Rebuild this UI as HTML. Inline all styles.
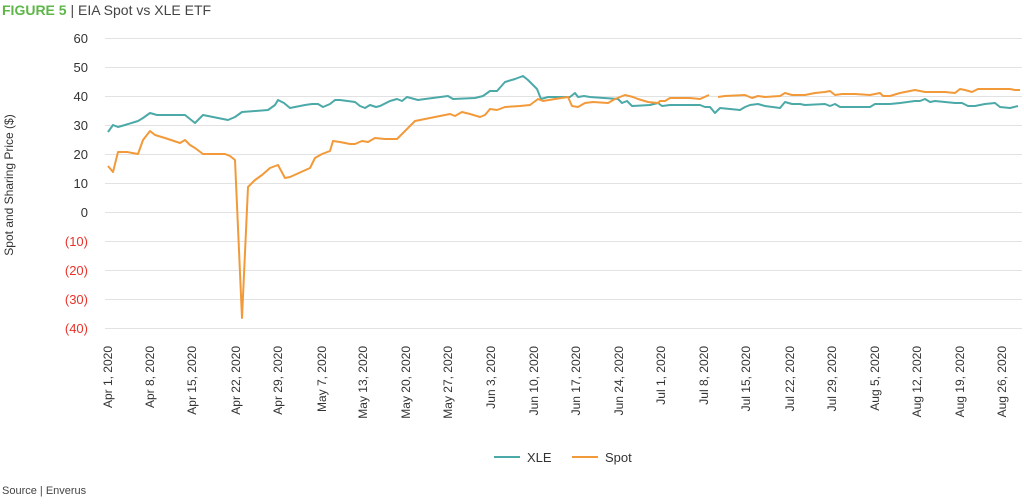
<!DOCTYPE html>
<html><head><meta charset="utf-8"><style>
body{margin:0;background:#fff;width:1024px;height:499px;overflow:hidden;font-family:"Liberation Sans",sans-serif}
</style></head><body>
<svg width="1024" height="499" xmlns="http://www.w3.org/2000/svg" font-family="Liberation Sans, sans-serif">
<text x="2" y="15" font-size="14" fill="#444"><tspan fill="#5DB648" font-weight="bold">FIGURE 5</tspan> | EIA Spot vs XLE ETF</text>
<g stroke="#e2e2e2" stroke-width="1">
<line x1="105" x2="1022" y1="38.5" y2="38.5"/><line x1="105" x2="1022" y1="67.5" y2="67.5"/><line x1="105" x2="1022" y1="96.5" y2="96.5"/><line x1="105" x2="1022" y1="125.5" y2="125.5"/><line x1="105" x2="1022" y1="154.5" y2="154.5"/><line x1="105" x2="1022" y1="183.5" y2="183.5"/><line x1="105" x2="1022" y1="212.5" y2="212.5"/><line x1="105" x2="1022" y1="241.5" y2="241.5"/><line x1="105" x2="1022" y1="270.5" y2="270.5"/><line x1="105" x2="1022" y1="299.5" y2="299.5"/><line x1="105" x2="1022" y1="328.5" y2="328.5"/>
</g>
<g font-size="13" text-anchor="end" fill="#333">
<text x="88" y="43">60</text><text x="88" y="72">50</text><text x="88" y="101">40</text><text x="88" y="130">30</text><text x="88" y="159">20</text><text x="88" y="188">10</text><text x="88" y="217">0</text>
<g fill="#e8332b"><text x="88" y="246">(10)</text><text x="88" y="275">(20)</text><text x="88" y="304">(30)</text><text x="88" y="333">(40)</text></g>
</g>
<text transform="translate(13,185) rotate(-90)" font-size="12" text-anchor="middle" fill="#333">Spot and Sharing Price ($)</text>
<g font-size="12" fill="#333" text-anchor="end">
<text transform="translate(112,346) rotate(-90)">Apr 1, 2020</text>
<text transform="translate(154,346) rotate(-90)">Apr 8, 2020</text>
<text transform="translate(196,346) rotate(-90)">Apr 15, 2020</text>
<text transform="translate(240,346) rotate(-90)">Apr 22, 2020</text>
<text transform="translate(282,346) rotate(-90)">Apr 29, 2020</text>
<text transform="translate(326,346) rotate(-90)">May 7, 2020</text>
<text transform="translate(367,346) rotate(-90)">May 13, 2020</text>
<text transform="translate(410,346) rotate(-90)">May 20, 2020</text>
<text transform="translate(452,346) rotate(-90)">May 27, 2020</text>
<text transform="translate(495,346) rotate(-90)">Jun 3, 2020</text>
<text transform="translate(538,346) rotate(-90)">Jun 10, 2020</text>
<text transform="translate(580,346) rotate(-90)">Jun 17, 2020</text>
<text transform="translate(623,346) rotate(-90)">Jun 24, 2020</text>
<text transform="translate(665,346) rotate(-90)">Jul 1, 2020</text>
<text transform="translate(708,346) rotate(-90)">Jul 8, 2020</text>
<text transform="translate(750,346) rotate(-90)">Jul 15, 2020</text>
<text transform="translate(794,346) rotate(-90)">Jul 22, 2020</text>
<text transform="translate(836,346) rotate(-90)">Jul 29, 2020</text>
<text transform="translate(879,346) rotate(-90)">Aug 5, 2020</text>
<text transform="translate(921,346) rotate(-90)">Aug 12, 2020</text>
<text transform="translate(964,346) rotate(-90)">Aug 19, 2020</text>
<text transform="translate(1006,346) rotate(-90)">Aug 26, 2020</text>
</g>
<polyline fill="none" stroke="#4BA9A8" stroke-width="2" stroke-linejoin="round" points="108,132 113,125 118,127 125,125 138,121 143,118 150,113 157,115 185,115 195,123 203,115 228,120 235,117 242,112 268,110 275,105 278,100 284,103 290,108 305,105 312,104 318,104 323,107 330,104 335,100 340,100 355,102 360,106 365,108 370,105 376,107 380,106 390,101 397,99 402,101 407,97 418,100 425,99 448,96 453,99 475,98 483,96 490,91 497,91 505,82 515,79 523,76 528,80 533,85 537,89 541,99 548,97 570,97 575,93 578,97 584,96 590,97 618,99 622,103 627,101 632,106 650,105 658,103 662,106 670,105 700,105 705,107 710,107 715,113 720,108 740,110 745,107 750,105 758,104 765,106 780,108 785,102 792,104 800,104 805,105 825,104 830,106 835,104 840,107 870,107 875,104 890,104 900,103 915,101 920,101 925,99 930,102 935,101 955,103 962,103 968,106 975,106 985,104 995,103 1000,107 1010,108 1018,106"/>
<polyline fill="none" stroke="#F29A3A" stroke-width="2" stroke-linejoin="round" points="108,166 113,172 118,152 127,152 138,154 143,140 150,131 155,135 165,138 180,143 185,140 190,145 195,148 203,154 225,154 230,156 235,160 242,318 248,187 255,180 262,175 270,168 278,165 285,178 290,177 310,168 315,158 322,154 330,151 333,141 340,142 350,144 355,144 362,141 368,142 375,138 385,139 397,139 403,133 410,126 415,121 425,119 440,116 450,114 455,116 462,112 470,114 480,117 485,115 490,109 497,110 505,107 520,106 530,105 538,99 543,101 555,99 568,97 572,106 578,107 585,103 593,102 608,103 615,99 625,95 633,97 638,99 648,102 658,103 660,101 665,101 670,98 690,98 700,99 709,95"/>
<polyline fill="none" stroke="#F29A3A" stroke-width="2" stroke-linejoin="round" points="718,97 725,96 745,95 752,98 758,96 765,97 780,96 785,93 792,95 805,95 815,93 825,92 830,91 835,95 842,94 855,94 870,95 880,93 883,96 890,96 900,93 915,90 925,92 932,92 945,92 955,93 960,89 965,90 972,92 978,89 1000,89 1010,89 1015,90 1020,90"/>
<line x1="494" x2="520" y1="457" y2="457" stroke="#4BA9A8" stroke-width="2"/>
<text x="527" y="462" font-size="13" fill="#333">XLE</text>
<line x1="572" x2="598" y1="457" y2="457" stroke="#F29A3A" stroke-width="2"/>
<text x="605" y="462" font-size="13" fill="#333">Spot</text>
<text x="2" y="494" font-size="11" fill="#444">Source | Enverus</text>
</svg>
</body></html>
